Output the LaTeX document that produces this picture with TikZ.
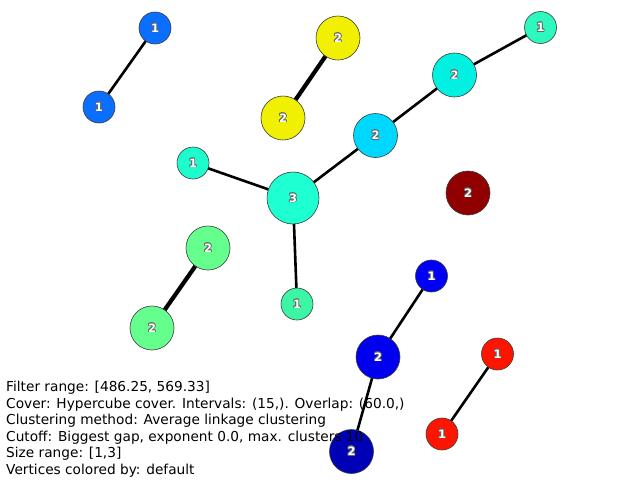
\documentclass[tikz,border=0pt]{standalone}
\usepackage{fontspec}
\setmainfont{DejaVu Sans}
\newfontfamily\labfont{DejaVu Sans Bold}
\usetikzlibrary{backgrounds}

% vertex colours
\definecolor{cA}{RGB}{10,110,255}
\definecolor{cC}{RGB}{240,240,0}
\definecolor{cE}{RGB}{45,248,190}
\definecolor{cF}{RGB}{0,240,225}
\definecolor{cG}{RGB}{0,215,255}
\definecolor{cH}{RGB}{30,252,205}
\definecolor{cI}{RGB}{30,255,210}
\definecolor{cJ}{RGB}{145,0,0}
\definecolor{cK}{RGB}{100,255,140}
\definecolor{cM}{RGB}{60,245,165}
\definecolor{cN}{RGB}{0,0,250}
\definecolor{cO}{RGB}{0,0,238}
\definecolor{cP}{RGB}{0,0,180}
\definecolor{cQ}{RGB}{255,20,0}
\definecolor{rimgray}{RGB}{60,60,60}
\definecolor{outgray}{RGB}{100,100,100}

% white digit with a grey outline, built from shifted copies
\newcommand\shcopy[3]{\makebox[0pt]{\hspace*{#1}\raisebox{#2}{#3}}}
\newcommand\olab[1]{{\labfont\fontsize{11.5}{11.5}\selectfont
  \color{outgray}%
  \shcopy{1.8pt}{0pt}{#1}\shcopy{-1.8pt}{0pt}{#1}%
  \shcopy{0pt}{0.9pt}{#1}\shcopy{0pt}{-0.9pt}{#1}%
  \shcopy{1.3pt}{0.65pt}{#1}\shcopy{-1.3pt}{0.65pt}{#1}%
  \shcopy{1.3pt}{-0.65pt}{#1}\shcopy{-1.3pt}{-0.65pt}{#1}%
  \color{white}\shcopy{0pt}{0pt}{#1}}}

\tikzset{
  vtx/.style={circle, draw=rimgray, line width=0.6pt, inner sep=0pt,
              fill=#1, text height=8pt, text depth=0pt},
  sz1/.style={minimum size=32pt},
  sz2/.style={minimum size=44pt},
  sz3/.style={minimum size=52pt},
  edge/.style={black, line width=2.6pt},
  thickedge/.style={black, line width=4.2pt},
  info/.style={anchor=base west, inner sep=0pt, font=\fontsize{13.7}{16}\selectfont}
}

\begin{document}
\begin{tikzpicture}[x=1pt, y=-1pt]
\useasboundingbox (0,0) rectangle (640,480);

% vertices
\node[vtx=cA, sz1] (a) at (155,28) {\olab{1}};
\node[vtx=cA, sz1] (b) at (99,107) {\olab{1}};
\node[vtx=cC, sz2] (c) at (338,38) {\olab{2}};
\node[vtx=cC, sz2] (d) at (283,118) {\olab{2}};
\node[vtx=cE, sz1] (e) at (540.5,27.5) {\olab{1}};
\node[vtx=cF, sz2] (f) at (454.5,75) {\olab{2}};
\node[vtx=cG, sz2] (g) at (375.5,135.5) {\olab{2}};
\node[vtx=cH, sz1] (h) at (193,163) {\olab{1}};
\node[vtx=cI, sz3] (i) at (293,198) {\olab{3}};
\node[vtx=cJ, sz2] (j) at (468,193) {\olab{2}};
\node[vtx=cK, sz2] (k) at (208,248) {\olab{2}};
\node[vtx=cK, sz2] (l) at (152,328) {\olab{2}};
\node[vtx=cM, sz1] (m) at (297,304) {\olab{1}};
\node[vtx=cN, sz1] (n) at (431.5,276) {\olab{1}};
\node[vtx=cO, sz2] (o) at (378,357) {\olab{2}};
\node[vtx=cP, sz2] (p) at (351.5,451.5) {\olab{2}};
\node[vtx=cQ, sz1] (q) at (497.5,354) {\olab{1}};
\node[vtx=cQ, sz1] (r) at (442,434) {\olab{1}};

% edges, kept beneath the vertices
\begin{pgfonlayer}{background}
\fill[white] (0,0) rectangle (640,480);
\draw[edge] (a.center) -- (b.center);
\draw[thickedge] (c.center) -- (d.center);
\draw[edge] (e.center) -- (f.center);
\draw[edge] (f.center) -- (g.center);
\draw[edge] (g.center) -- (i.center);
\draw[edge] (h.center) -- (i.center);
\draw[edge] (i.center) -- (m.center);
\draw[thickedge] (k.center) -- (l.center);
\draw[edge] (n.center) -- (o.center);
\draw[edge] (o.center) -- (p.center);
\draw[edge] (q.center) -- (r.center);
\end{pgfonlayer}

% parameter summary
\node[info] (t1) at (6,391.5) {Filter range: [486.25, 569.33]};
\node[info] (t2) at (6,408) {Cover: Hypercube cover. Intervals: (15,). Overlap: (60.0,)};
\node[info] (t3) at (6,424.5) {Clustering method: Average linkage clustering};
\node[info] (t4) at (6,441) {Cutoff: Biggest gap, exponent 0.0, max. clusters 10};
\node[info] (t5) at (6,457.5) {Size range: [1,3]};
\node[info] (t6) at (6,474) {Vertices colored by: default};
\end{tikzpicture}
\end{document}
